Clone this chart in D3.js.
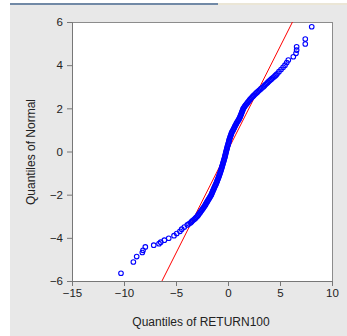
<!DOCTYPE html>
<html>
<head>
<meta charset="utf-8">
<script src="https://cdn.jsdelivr.net/npm/d3@7"></script>
<style>
  body { margin: 0; background: #fff; }
  svg { display: block; font-family: "Liberation Sans", Arial, sans-serif; }
</style>
</head>
<body>
<svg width="347" height="336"></svg>
<script>
// quantiles of RETURN100 (x) against normal quantiles (y)
const returnQ = [
  -10.29, -9.10, -8.78, -8.24, -8.17, -7.95, -7.14, -6.63, -6.47, -6.12, -5.70, -5.19,
  -4.93, -4.62, -4.45, -4.20,
  -3.91, -3.75, -3.60, -3.50, -3.40, -3.27, -3.15, -3.05, -2.95, -2.87, -2.80, -2.72,
  -2.65, -2.57, -2.50, -2.42, -2.35, -2.28, -2.21, -2.15, -2.10, -2.03, -1.97, -1.91,
  -1.85, -1.78, -1.72, -1.66, -1.60, -1.56, -1.52, -1.47, -1.43, -1.38, -1.34, -1.29,
  -1.25, -1.20, -1.15, -1.11, -1.07, -1.03, -0.99, -0.95, -0.91, -0.87, -0.84, -0.80,
  -0.76, -0.73, -0.70, -0.66, -0.63, -0.60, -0.57, -0.54, -0.51, -0.48, -0.45, -0.42,
  -0.39, -0.36, -0.33, -0.30, -0.28, -0.25, -0.23, -0.20, -0.18, -0.15, -0.12, -0.10,
  -0.07, -0.04, -0.01, 0.02, 0.05, 0.08, 0.10, 0.13, 0.16, 0.20, 0.23, 0.27,
  0.30, 0.34, 0.38, 0.44, 0.50, 0.55, 0.60, 0.65, 0.70, 0.76, 0.81, 0.87,
  0.93, 1.00, 1.06, 1.11, 1.16, 1.20, 1.24, 1.28, 1.32, 1.36, 1.40, 1.44,
  1.48, 1.55, 1.62, 1.70, 1.78, 1.86, 1.94, 2.02, 2.10, 2.19, 2.28, 2.38,
  2.48, 2.59, 2.70, 2.81, 2.92, 3.03, 3.15, 3.27, 3.40, 3.50, 3.60, 3.71,
  3.82, 3.93, 4.04, 4.16, 4.28, 4.40, 4.52, 4.62, 4.72,
  4.90, 5.10, 5.30, 5.48, 5.65, 5.80, 6.28, 6.54, 6.60, 6.60, 7.43, 7.43, 8.05
];
const normalQ = [
  -5.64, -5.12, -4.87, -4.68, -4.58, -4.42, -4.34, -4.27, -4.20, -4.11, -4.02, -3.90,
  -3.80, -3.70, -3.60, -3.50,
  -3.40, -3.35, -3.30, -3.25, -3.20, -3.15, -3.10, -3.05, -3.00, -2.95, -2.90, -2.85,
  -2.80, -2.75, -2.70, -2.65, -2.60, -2.55, -2.50, -2.45, -2.40, -2.35, -2.30, -2.25,
  -2.20, -2.15, -2.10, -2.05, -2.00, -1.95, -1.90, -1.85, -1.80, -1.75, -1.70, -1.65,
  -1.60, -1.55, -1.50, -1.45, -1.40, -1.35, -1.30, -1.25, -1.20, -1.15, -1.10, -1.05,
  -1.00, -0.95, -0.90, -0.85, -0.80, -0.75, -0.70, -0.65, -0.60, -0.55, -0.50, -0.45,
  -0.40, -0.35, -0.30, -0.25, -0.20, -0.15, -0.10, -0.05, 0.00, 0.05, 0.10, 0.15,
  0.20, 0.25, 0.30, 0.35, 0.40, 0.45, 0.50, 0.55, 0.60, 0.65, 0.70, 0.75,
  0.80, 0.85, 0.90, 0.95, 1.00, 1.05, 1.10, 1.15, 1.20, 1.25, 1.30, 1.35,
  1.40, 1.45, 1.50, 1.55, 1.60, 1.65, 1.70, 1.75, 1.80, 1.85, 1.90, 1.95,
  2.00, 2.05, 2.10, 2.15, 2.20, 2.25, 2.30, 2.35, 2.40, 2.45, 2.50, 2.55,
  2.60, 2.65, 2.70, 2.75, 2.80, 2.85, 2.90, 2.95, 3.00, 3.05, 3.10, 3.15,
  3.20, 3.25, 3.30, 3.35, 3.40, 3.45, 3.50, 3.55, 3.60,
  3.70, 3.80, 3.90, 4.00, 4.12, 4.24, 4.39, 4.55, 4.70, 4.85, 4.98, 5.21, 5.78
];
// reference line end points
const refLineX = [-6.35, 6.2];
const refLineY = [-6, 6];

const xTicks = [-15, -10, -5, 0, 5, 10];
const yTicks = [-6, -4, -2, 0, 2, 4, 6];

const svg = d3.select("svg");
const W = 347, H = 336;
const plot = {left: 72, top: 22, right: 332, bottom: 281};

// window chrome
svg.append("rect").attr("x", 10).attr("y", 5).attr("width", W - 10).attr("height", H - 5).attr("fill", "#e8e8e8");
svg.append("rect").attr("x", 10).attr("y", 3).attr("width", 208).attr("height", 2).attr("fill", "#7189a6");
svg.append("rect").attr("x", 218).attr("y", 3).attr("width", W - 218).attr("height", 2).attr("fill", "#ebe6d6");

const x = d3.scaleLinear().domain([-15, 10]).range([plot.left, plot.right]);
const y = d3.scaleLinear().domain([-6, 6]).range([plot.bottom, plot.top]);

svg.append("rect")
  .attr("x", plot.left).attr("y", plot.top)
  .attr("width", plot.right - plot.left).attr("height", plot.bottom - plot.top)
  .attr("fill", "#fff").attr("stroke", "#8c8c8c").attr("stroke-width", 1)
  .attr("shape-rendering", "crispEdges");

svg.append("defs").append("clipPath").attr("id", "clip")
  .append("rect").attr("x", plot.left).attr("y", plot.top)
  .attr("width", plot.right - plot.left).attr("height", plot.bottom - plot.top);

const xAxis = svg.append("g")
  .attr("transform", "translate(0," + plot.bottom + ")")
  .call(d3.axisBottom(x).tickValues(xTicks).tickSize(5).tickPadding(3).tickFormat(d3.format("d")));
const yAxis = svg.append("g")
  .attr("transform", "translate(" + plot.left + ",0)")
  .call(d3.axisLeft(y).tickValues(yTicks).tickSize(5).tickPadding(4).tickFormat(d3.format("d")));

[xAxis, yAxis].forEach(function (a) {
  a.select(".domain").attr("stroke", "#777");
  a.selectAll(".tick line").attr("stroke", "#777");
  a.selectAll(".tick text").attr("fill", "#222").attr("font-size", 11.5)
    .attr("font-family", "Liberation Sans, Arial, sans-serif");
});

const g = svg.append("g").attr("clip-path", "url(#clip)");

g.append("line")
  .attr("x1", x(refLineX[0])).attr("y1", y(refLineY[0]))
  .attr("x2", x(refLineX[1])).attr("y2", y(refLineY[1]))
  .attr("stroke", "#ff0000").attr("stroke-width", 1);

g.selectAll("circle")
  .data(returnQ.map(function (v, i) { return {x: v, y: normalQ[i]}; }))
  .enter().append("circle")
  .attr("cx", function (d) { return x(d.x); })
  .attr("cy", function (d) { return y(d.y); })
  .attr("r", 2.3)
  .attr("fill", "none")
  .attr("stroke", "#0000ff")
  .attr("stroke-width", 1.1);

svg.append("text")
  .attr("x", 201).attr("y", 326)
  .attr("text-anchor", "middle").attr("font-size", 12).attr("fill", "#222")
  .text("Quantiles of RETURN100");

svg.append("text")
  .attr("transform", "translate(35,152) rotate(-90)")
  .attr("text-anchor", "middle").attr("font-size", 12).attr("fill", "#222")
  .text("Quantiles of Normal");
</script>
</body>
</html>
